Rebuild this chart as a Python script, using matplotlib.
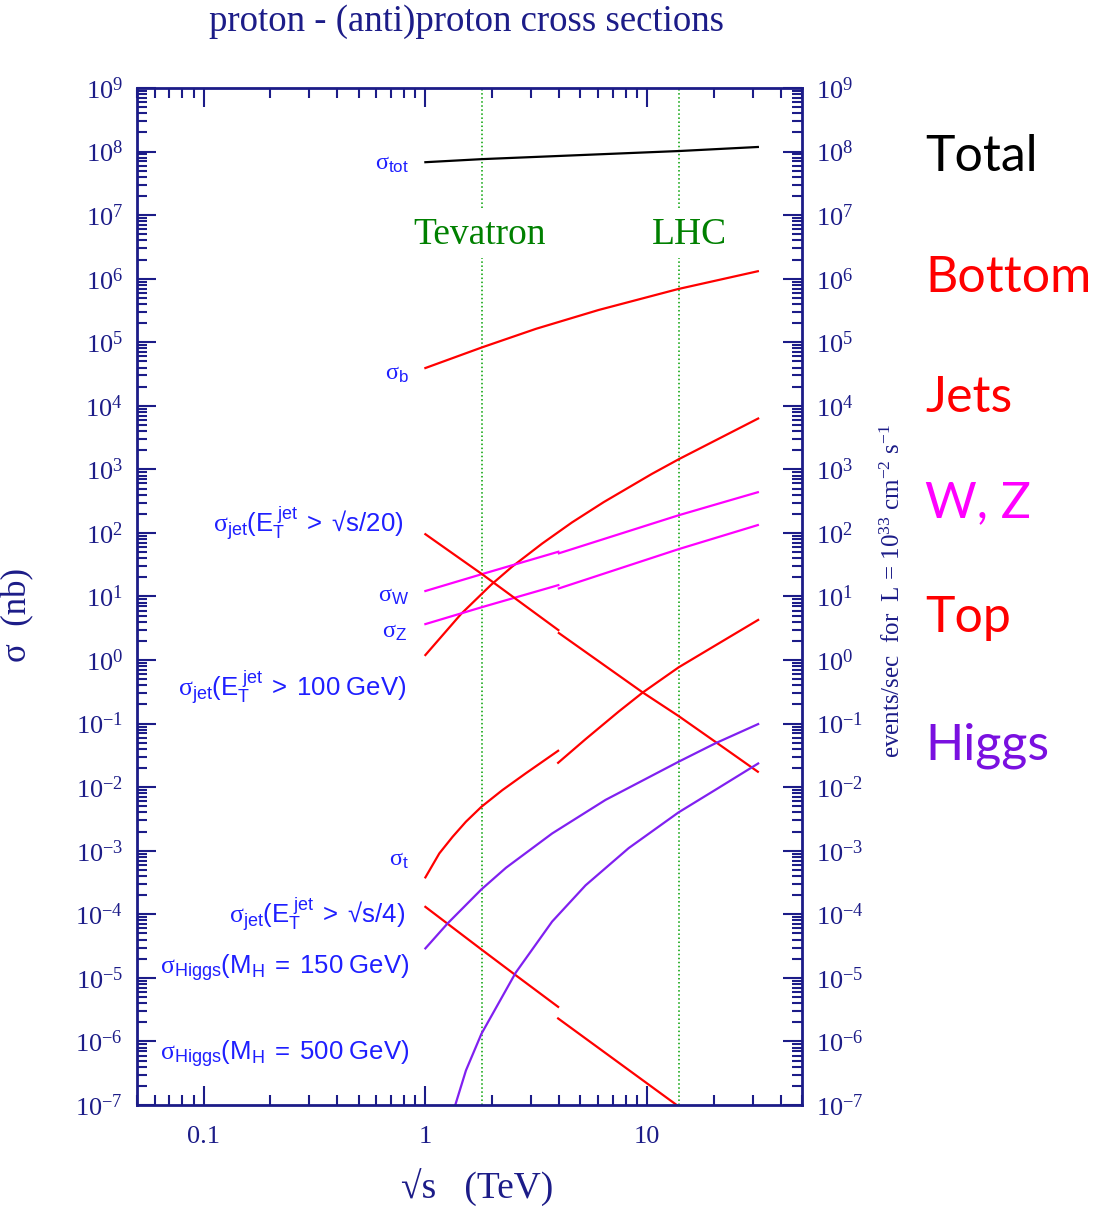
import numpy as np
import matplotlib
matplotlib.use("Agg")
import matplotlib.pyplot as plt
from matplotlib.ticker import LogLocator, NullFormatter

plt.rcParams['font.family'] = 'serif'
plt.rcParams['font.serif'] = ['Liberation Serif', 'DejaVu Serif']
plt.rcParams['mathtext.fontset'] = 'custom'
plt.rcParams['mathtext.rm'] = 'Liberation Serif'
plt.rcParams['mathtext.sf'] = 'Liberation Sans'
plt.rcParams['mathtext.it'] = 'Liberation Serif:italic'
plt.rcParams['mathtext.bf'] = 'Liberation Serif:bold'

# --- data (sqrt(s) in TeV, sigma in nb) ---
tot_x = [1, 1.8, 14, 31.6]
tot_y = [6.8e7, 7.6e7, 1.02e8, 1.18e8]

b_x = [1, 1.8, 3.16, 6.05, 13.8, 31.6]
b_y = [3.93e4, 8.3e4, 1.63e5, 3.22e5, 6.87e5, 1.31e6]

jet100_x = [1, 1.45, 1.98, 2.46, 3.36, 4.58, 6.37, 10.5, 13.9, 31.7]
jet100_y = [1.2, 5.33, 15.3, 29.4, 67.9, 146, 305, 847, 1445, 6310]

w_x1 = [1, 1.8, 3.98]
w_y1 = [12.2, 22.5, 50.6]
w_x2 = [4.0, 13.9, 24.0, 31.6]
w_y2 = [47.8, 190, 331, 437]

z_x1 = [1, 1.8, 3.98]
z_y1 = [3.68, 6.8, 15.1]
z_x2 = [4.0, 13.9, 31.6]
z_y2 = [13.4, 55.7, 133]

jet20_x1 = [1, 1.8, 3.98]
jet20_y1 = [95.5, 22.5, 2.96]
jet20_x2 = [4.0, 9.55, 13.9, 20.3, 31.6]
jet20_y2 = [2.66, 0.31, 0.131, 0.0519, 0.0175]

top_x1 = [1, 1.156, 1.327, 1.523, 1.79, 2.225, 2.835, 3.97]
top_y1 = [3.81e-4, 9.1e-4, 1.66e-3, 2.86e-3, 4.92e-3, 9.0e-3, 1.65e-2, 3.74e-2]
top_x2 = [3.97, 5.28, 7.45, 9.55, 13.86, 22.5, 31.7]
top_y2 = [0.0242, 0.057, 0.155, 0.308, 0.766, 2.10, 4.28]

jet4_x1 = [1, 1.79, 2.556, 3.97]
jet4_y1 = [1.31e-4, 2.8e-5, 1.1e-5, 3.5e-6]
jet4_x2 = [3.97, 13.6]
jet4_y2 = [2.3e-6, 1.0e-7]

h150_x = [1, 1.26, 1.79, 2.31, 3.73, 6.49, 13.86, 20.3, 31.7]
h150_y = [2.91e-5, 7.2e-5, 2.47e-4, 5.4e-4, 1.87e-3, 6.3e-3, 0.0251, 0.0489, 0.0984]

h500_x = [1.364, 1.524, 1.79, 2.556, 3.73, 5.28, 8.26, 13.86, 20.96, 31.7]
h500_y = [1e-7, 3.5e-7, 1.32e-6, 1.21e-5, 7.69e-5, 2.86e-4, 1.10e-3, 4.01e-3, 9.7e-3, 0.0236]

tevatron = 1.8
lhc = 14

navy = '#1c1c88'
lblue = '#1f1fff'
red = '#ff0000'
mag = '#ff00ff'
purple = '#8020f0'
green = '#008000'

fig = plt.figure(figsize=(11.09, 12.07), dpi=100)
ax = fig.add_axes([0.1235, 0.0845, 0.5997, 0.8426])
ax.set_xscale('log')
ax.set_yscale('log')
ax.set_xlim(0.05, 50)
ax.set_ylim(1e-7, 1e9)

# collider energies, dotted, broken around the names
for xv in (tevatron, lhc):
    ax.axvline(xv, ymin=0, ymax=0.833, color='#00a000', ls=':', lw=1.1)
    ax.axvline(xv, ymin=0.882, ymax=1, color='#00a000', ls=':', lw=1.1)

lw = 1.6
ax.plot(tot_x, tot_y, color='black', lw=lw)
ax.plot(b_x, b_y, color=red, lw=lw)
ax.plot(jet100_x, jet100_y, color=red, lw=lw)
ax.plot(w_x1, w_y1, color=mag, lw=lw)
ax.plot(w_x2, w_y2, color=mag, lw=lw)
ax.plot(z_x1, z_y1, color=mag, lw=lw)
ax.plot(z_x2, z_y2, color=mag, lw=lw)
ax.plot(jet20_x1, jet20_y1, color=red, lw=lw)
ax.plot(jet20_x2, jet20_y2, color=red, lw=lw)
ax.plot(top_x1, top_y1, color=red, lw=lw)
ax.plot(top_x2, top_y2, color=red, lw=lw)
ax.plot(jet4_x1, jet4_y1, color=red, lw=lw)
ax.plot(jet4_x2, jet4_y2, color=red, lw=lw)
ax.plot(h150_x, h150_y, color=purple, lw=lw)
ax.plot(h500_x, h500_y, color=purple, lw=lw)

# axes styling
for s in ax.spines.values():
    s.set_color(navy)
    s.set_linewidth(2)
ax.yaxis.set_major_locator(LogLocator(base=10, numticks=20))
ax.yaxis.set_minor_locator(LogLocator(base=10, subs=np.arange(2, 10), numticks=200))
ax.yaxis.set_minor_formatter(NullFormatter())
ax.xaxis.set_minor_formatter(NullFormatter())
ax.set_xticks([0.1, 1, 10])
ax.set_xticklabels(['0.1', '1', '10'])
ax.tick_params(which='both', direction='in', top=True, right=True,
               labelright=True, color=navy, labelcolor=navy, width=1.5)
ax.tick_params(which='major', length=14, labelsize=19, pad=10)
ax.tick_params(axis='x', which='major', pad=15)
ax.tick_params(which='minor', length=7)

# curve labels
lab = dict(color=lblue, fontsize=17.5, ha='right', va='center')
big = dict(color=lblue, fontsize=18.5, ha='right', va='center')
ax.text(0.84, 10**7.79, r'$\mathrm{σ}_{\mathsf{tot}}$', **lab)
ax.text(0.84, 10**4.5, r'$\mathrm{σ}_{\mathsf{b}}$', **lab)
ax.text(0.8, 10**2.16, r'$\mathrm{σ}_{\mathsf{jet}}\mathsf{(E_T^{\ jet}\ >\ √s/20)}$', **big)
ax.text(0.85, 10**1.0, r'$\mathrm{σ}_{\mathsf{W}}$', **lab)
ax.text(0.83, 10**0.44, r'$\mathrm{σ}_{\mathsf{Z}}$', **lab)
ax.text(0.82, 10**-0.42, r'$\mathrm{σ}_{\mathsf{jet}}\mathsf{(E_T^{\ jet}\ >\ 100\ GeV)}$', **big)
ax.text(0.84, 10**-3.15, r'$\mathrm{σ}_{\mathsf{t}}$', **lab)
ax.text(0.81, 10**-4.0, r'$\mathrm{σ}_{\mathsf{jet}}\mathsf{(E_T^{\ jet}\ >\ √s/4)}$', **big)
ax.text(0.85, 10**-4.85, r'$\mathrm{σ}_{\mathsf{Higgs}}\mathsf{(M_H\ =\ 150\ GeV)}$', **big)
ax.text(0.85, 10**-6.2, r'$\mathrm{σ}_{\mathsf{Higgs}}\mathsf{(M_H\ =\ 500\ GeV)}$', **big)

ax.text(1.75, 10**6.69, 'Tevatron', color=green, fontsize=27, ha='center', va='center')
ax.text(15.5, 10**6.69, 'LHC', color=green, fontsize=27, ha='center', va='center')

ax.set_ylabel('σ  (nb)', color=navy, fontsize=25, labelpad=14)
ax.yaxis.set_label_coords(-0.155, 0.482)

fig.text(0.43, 1 - 1188 / 1207, '√s   (TeV)', color=navy, fontsize=27,
         ha='center', va='center')
fig.text(0.421, 0.982, 'proton - (anti)proton cross sections', color=navy,
         fontsize=26.5, ha='center', va='center')
fig.text(0.805, 0.51, r'events/sec  for  L = 10$^{33}$ cm$^{-2}$ s$^{-1}$',
         color=navy, fontsize=18, rotation=90, ha='center', va='center')

# process names on the right
cat_names = ['Total', 'Bottom', 'Jets', 'W, Z', 'Top', 'Higgs']
cat_colors = ['black', red, red, mag, red, '#7a10e0']
cat_ypx = [157, 278, 398, 503, 618, 746]
for name, c, ypx in zip(cat_names, cat_colors, cat_ypx):
    fig.text(925 / 1109, 1 - ypx / 1207, name, color=c, fontsize=36,
             family='Lato', ha='left', va='center')

fig.savefig('out.png', dpi=100)
